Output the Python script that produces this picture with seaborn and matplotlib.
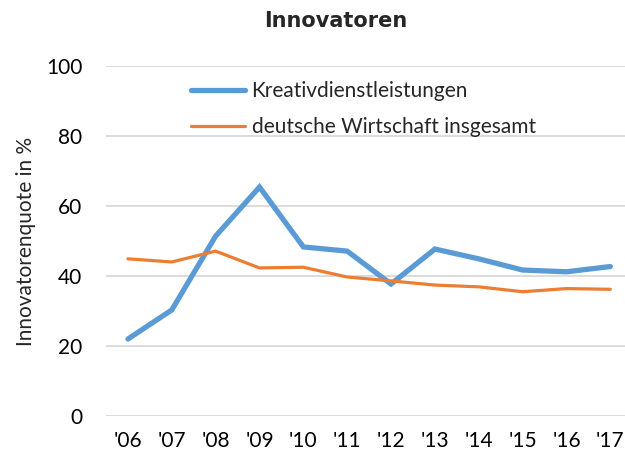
import matplotlib
matplotlib.use("Agg")
import matplotlib.pyplot as plt
import seaborn as sns
import pandas as pd

years = ["'06", "'07", "'08", "'09", "'10", "'11", "'12", "'13", "'14", "'15", "'16", "'17"]
kreativ = [22.0, 30.3, 51.4, 65.4, 48.3, 47.1, 37.7, 47.7, 44.9, 41.7, 41.2, 42.7]
gesamt = [44.9, 44.0, 47.1, 42.3, 42.5, 39.7, 38.6, 37.4, 36.9, 35.5, 36.4, 36.2]
series_names = ["Kreativdienstleistungen", "deutsche Wirtschaft insgesamt"]

sns.set_theme(style="white")
plt.rcParams["font.family"] = ["Lato", "DejaVu Sans"]

df = pd.DataFrame({
    "x": list(range(len(years))) * 2,
    "value": kreativ + gesamt,
    "series": [series_names[0]] * len(years) + [series_names[1]] * len(years),
})

fig = plt.figure(figsize=(6.25, 4.57), dpi=100)
ax = fig.add_axes([0.1696, 0.0897, 0.842, 0.766])

palette = {series_names[0]: "#5B9BD5", series_names[1]: "#ED7D31"}
sns.lineplot(data=df, x="x", y="value", hue="series", size="series",
             sizes={series_names[0]: 3.8, series_names[1]: 2.3},
             palette=palette, ax=ax, legend=True)
for ln in ax.lines:
    ln.set_solid_capstyle("round")
    ln.set_solid_joinstyle("miter")

ax.set_xlim(-0.5, 11.5)
ax.set_ylim(0, 100)
ax.set_yticks([0, 20, 40, 60, 80, 100])
ax.set_xticks(range(len(years)))
ax.set_xticklabels(years)
ax.tick_params(axis="both", labelsize=15, length=0, colors="#000000")
ax.tick_params(axis="y", pad=17)
ax.tick_params(axis="x", pad=11)
ax.yaxis.grid(True, color="#D9D9D9", linewidth=1.3)
ax.xaxis.grid(False)
for s in ax.spines.values():
    s.set_visible(False)
ax.set_xlabel("")
ax.set_ylabel("Innovatorenquote in %", fontsize=15, labelpad=7)

handles, labels = ax.get_legend_handles_labels()
leg = ax.legend(handles, labels, loc="upper left", bbox_to_anchor=(0.146, 0.98),
                frameon=False, fontsize=15, handlelength=2.6, handletextpad=0.3,
                labelspacing=0.75, borderaxespad=0)
for h in leg.get_lines():
    h.set_solid_capstyle("round")

fig.suptitle("Innovatoren", x=0.537, y=0.975, fontsize=15, fontweight="bold",
             family="DejaVu Sans")

fig.savefig("out.png", dpi=100)
